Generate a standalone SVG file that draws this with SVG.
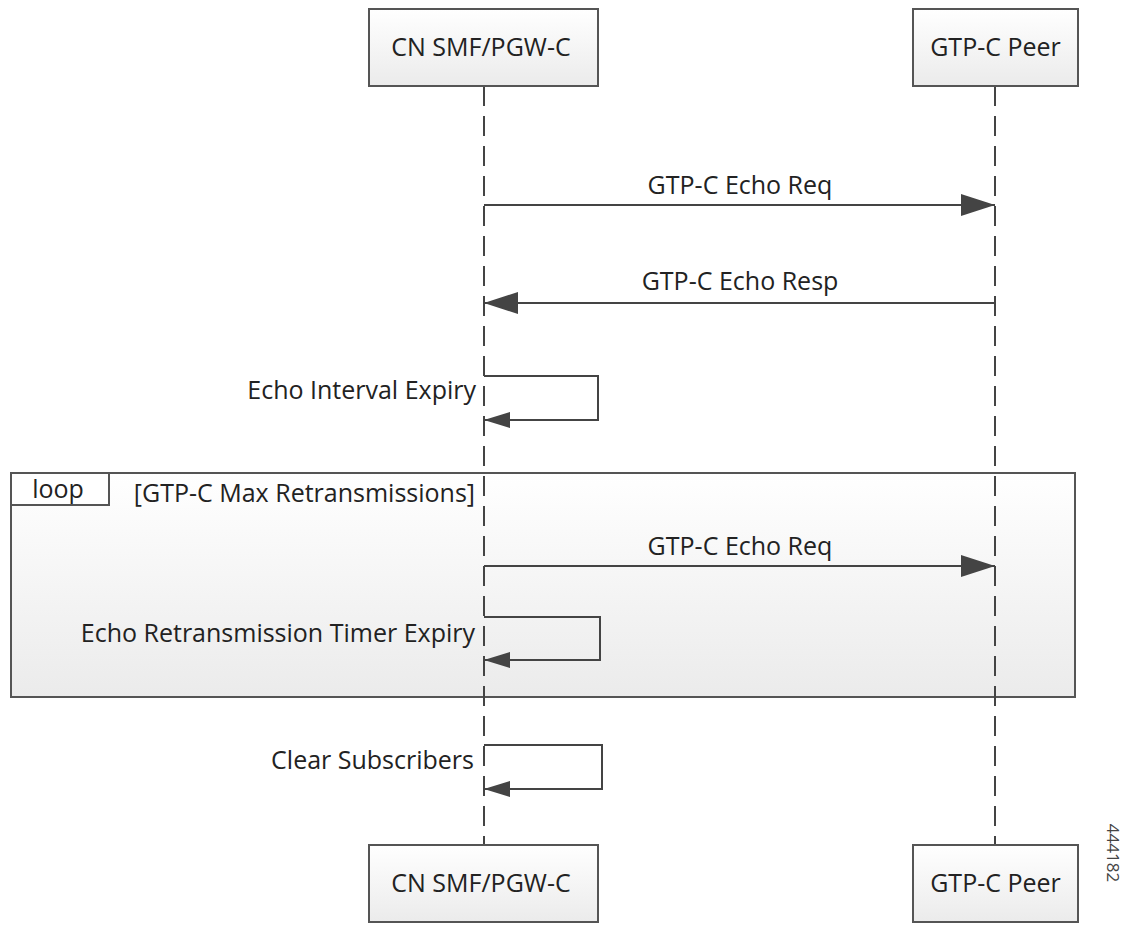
<svg xmlns="http://www.w3.org/2000/svg" width="1139" height="925" viewBox="0 0 1139 925">
<defs>
<linearGradient id="g" x1="0" y1="0" x2="0" y2="1">
<stop offset="0" stop-color="#ffffff"/>
<stop offset="1" stop-color="#ebebeb"/>
</linearGradient>
<marker id="big" markerWidth="34" markerHeight="22" refX="34" refY="11" orient="auto" markerUnits="userSpaceOnUse">
<path d="M0,0 L34,11 L0,22 Z" fill="#444"/>
</marker>
<marker id="small" markerWidth="26" markerHeight="16" refX="26" refY="8" orient="auto" markerUnits="userSpaceOnUse">
<path d="M0,0 L26,8 L0,16 Z" fill="#444"/>
</marker>
</defs>
<style>
text{font-family:"Open Sans","DejaVu Sans",sans-serif;font-size:25px;fill:#222}
.box{fill:url(#g);stroke:#555;stroke-width:2}
.life{stroke:#444;stroke-width:2;stroke-dasharray:20,10;fill:none}
.msg{stroke:#444;stroke-width:2;fill:none}
.c{text-anchor:middle}
.r{text-anchor:end}
</style>
<rect width="1139" height="925" fill="#fff"/>
<g id="loop-frame">
<rect x="11" y="473" width="1064" height="224" class="box"/>
<rect x="11" y="473" width="98" height="32" fill="#fff" stroke="#555" stroke-width="2"/>
<text x="58" y="498" class="c">loop</text>
<text x="475" y="502" class="r">[GTP-C Max Retransmissions]</text>
</g>
<g id="lifelines">
<line x1="484" y1="86" x2="484" y2="845" class="life"/>
<line x1="995" y1="86" x2="995" y2="845" class="life"/>
</g>
<g id="cn-top"><rect x="369" y="9" width="229" height="77" class="box"/><text x="481" y="56" class="c">CN SMF/PGW-C</text></g>
<g id="peer-top"><rect x="913" y="9" width="165" height="77" class="box"/><text x="995.5" y="56" class="c">GTP-C Peer</text></g>
<g id="cn-bottom"><rect x="369" y="845" width="229" height="77" class="box"/><text x="481" y="892" class="c">CN SMF/PGW-C</text></g>
<g id="peer-bottom"><rect x="913" y="845" width="165" height="77" class="box"/><text x="995.5" y="892" class="c">GTP-C Peer</text></g>
<g id="connectors">
<line x1="484" y1="205" x2="995" y2="205" class="msg" marker-end="url(#big)"/>
<text x="740" y="194" class="c">GTP-C Echo Req</text>
<line x1="995" y1="303" x2="484" y2="303" class="msg" marker-end="url(#big)"/>
<text x="740" y="290" class="c">GTP-C Echo Resp</text>
<polyline points="484,376 598,376 598,420 484,420" class="msg" marker-end="url(#small)"/>
<text x="476" y="399" class="r">Echo Interval Expiry</text>
<line x1="484" y1="566" x2="995" y2="566" class="msg" marker-end="url(#big)"/>
<text x="740" y="555" class="c">GTP-C Echo Req</text>
<polyline points="484,617 600,617 600,660 484,660" class="msg" marker-end="url(#small)"/>
<text x="475" y="642" class="r">Echo Retransmission Timer Expiry</text>
<polyline points="484,745 602,745 602,789 484,789" class="msg" marker-end="url(#small)"/>
<text x="474" y="769" class="r">Clear Subscribers</text>
</g>
<text x="1107" y="853" class="c" transform="rotate(90 1107 853)" style="font-size:17px;fill:#444">444182</text>
</svg>
